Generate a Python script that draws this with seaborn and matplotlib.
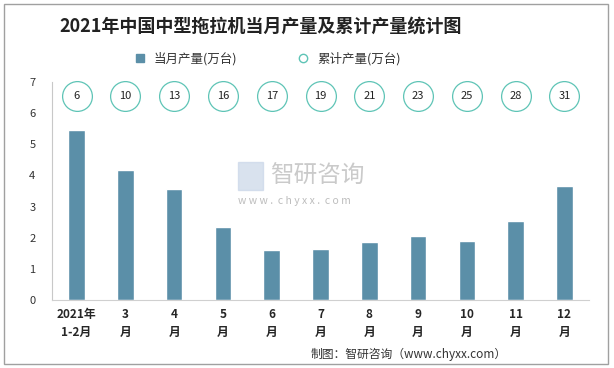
import matplotlib
matplotlib.use('Agg')
import matplotlib.pyplot as plt
import seaborn as sns
import pandas as pd
import numpy as np
from matplotlib.lines import Line2D
from matplotlib.patches import Rectangle

months = ['2021年\n1-2月', '3\n月', '4\n月', '5\n月', '6\n月', '7\n月', '8\n月', '9\n月', '10\n月', '11\n月', '12\n月']
monthly = [5.47, 4.18, 3.57, 2.35, 1.6, 1.64, 1.87, 2.06, 1.9, 2.54, 3.67]
cumulative = [6, 10, 13, 16, 17, 19, 21, 23, 25, 28, 31]

sns.set_style('white')
plt.rcParams['font.family'] = ['Noto Sans CJK SC', 'DejaVu Sans']

df = pd.DataFrame({'month': months, 'monthly': monthly})

fig = plt.figure(figsize=(6.14, 3.68), dpi=100)
ax = fig.add_axes([0.085, 0.185, 0.874, 0.592])

sns.barplot(data=df, x='month', y='monthly', color='#5B8FA8', width=0.34, saturation=1, ax=ax)

# cumulative circles at the top
xs = np.arange(len(months))
ax.scatter(xs, [6.55] * len(xs), s=460, facecolor='white', edgecolor='#5EC4B6', linewidth=0.9, zorder=3, clip_on=False)
for x, c in zip(xs, cumulative):
    ax.text(x, 6.55, str(c), ha='center', va='center', fontsize=8, color='#222222', zorder=4)

ax.set_ylim(0, 7)
ax.set_xlim(-0.5, len(months) - 0.5)
ax.set_yticks(range(8))
ax.set_xlabel('')
ax.set_ylabel('')
ax.tick_params(axis='y', labelsize=8, labelcolor='#333333', length=0, pad=12)
ax.tick_params(axis='x', which='major', length=0, labelsize=8.5, pad=6)
for lab in ax.get_xticklabels():
    lab.set_fontweight('bold')
    lab.set_linespacing(1.5)
ax.set_xticks(np.arange(-0.5, len(months)), minor=True)
ax.tick_params(axis='x', which='minor', length=4, color='#D0D0D0', width=1)

for s in ['top', 'right']:
    ax.spines[s].set_visible(False)
ax.spines['left'].set_color('#C8C8C8')
ax.spines['bottom'].set_color('#D0D0D0')

# title
fig.text(0.425, 0.928, '2021年中国中型拖拉机当月产量及累计产量统计图', ha='center', va='center',
         fontsize=13, fontweight='bold', color='#222222')

# legend
handles = [Line2D([], [], marker='s', linestyle='', color='#5B8FA8', markersize=6),
           Line2D([], [], marker='o', linestyle='', markerfacecolor='white', markeredgecolor='#5EC4B6', markersize=6)]
fig.legend(handles, ['当月产量(万台)', '累计产量(万台)'], loc='center', bbox_to_anchor=(0.43, 0.84), ncol=2,
           frameon=False, fontsize=9, handletextpad=0.1, columnspacing=4.3, labelcolor='#333333')

# watermark
fig.text(0.44, 0.52, '智研咨询', fontsize=17, color='#BDBDBD', alpha=0.8, ha='left', va='center')
fig.text(0.388, 0.455, 'w w w .  c h y x x .  c o m', fontsize=7.5, color='#BDBDBD', ha='left', va='center')
fig.patches.append(Rectangle((0.388, 0.485), 0.04, 0.075, transform=fig.transFigure, color='#C9D6E8', alpha=0.7))

# source
fig.text(0.825, 0.038, '制图：智研咨询（www.chyxx.com）', fontsize=8.5, color='#333333', ha='right', va='center')

# outer border
fig.patches.append(Rectangle((0.006, 0.012), 0.984, 0.976, transform=fig.transFigure, fill=False,
                             edgecolor='#A0A0A0', linewidth=1))

fig.savefig('out.png', dpi=100)
